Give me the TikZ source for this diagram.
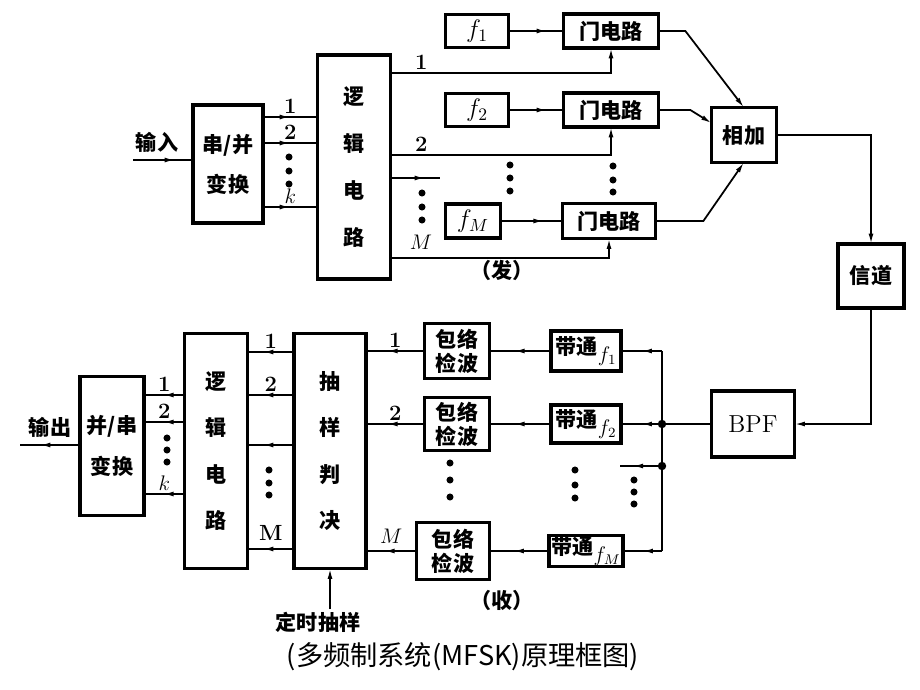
\documentclass[tikz,border=0pt]{standalone}
\usepackage{fontspec}
\newfontfamily\cjk{Noto Sans CJK SC}
\usetikzlibrary{arrows.meta}
\usetikzlibrary{decorations.markings}

\tikzset{
  blk/.style={inner sep=0pt, align=center,
    font=\cjk\bfseries\fontsize{12}{#1}\selectfont},
  blk/.default=14,
  frame/.style={line width=2pt},
  txt/.style={inner sep=1pt, font=\cjk\bfseries\fontsize{12}{14}\selectfont},
  lbl/.style={inner sep=1.5pt, font=\bfseries\fontsize{12.5}{14}\selectfont},
  mth/.style={font=\fontsize{14}{16}\selectfont},
  marr/.style={postaction={decorate},
    decoration={markings, mark=at position #1 with {\arrow{Latex[length=6pt,width=2.8pt]}}}},
  marr/.default=0.5,
  endarr/.style={-{Latex[length=6pt,width=2.8pt]}},
}

\begin{document}
\begin{tikzpicture}[x=0.02cm, y=-0.02cm, line width=1pt]
\useasboundingbox (0,0) rectangle (920,690);

% transmitter
\node[blk=22.7, minimum width=1.36cm, minimum height=2.32cm] (sp) at (228,164) {串/并\\变换};
\node[blk=26.6, minimum width=1.42cm, minimum height=4.44cm] (logA) at (354,167) {逻\\辑\\电\\路};

\node[blk, mth, minimum width=1.22cm, minimum height=0.62cm] (f1) at (477,31) {$f_1$};
\node[blk, mth, minimum width=1.22cm, minimum height=0.62cm] (f2) at (477,110) {$f_2$};
\node[blk, mth, minimum width=1.06cm, minimum height=0.64cm] (fM) at (473,221) {$f_M$};
\node[blk, minimum width=1.86cm, minimum height=0.64cm] (g1) at (611,31) {门电路};
\node[blk, minimum width=1.86cm, minimum height=0.64cm] (g2) at (611,110) {门电路};
\node[blk, minimum width=1.82cm, minimum height=0.66cm] (gM) at (609,221) {门电路};

\node[blk, minimum width=1.26cm, minimum height=1.06cm] (add) at (744,135) {相加};
\node[blk, minimum width=1.28cm, minimum height=1.24cm] (ch) at (871,276) {信道};
\node[blk, minimum width=1.62cm, minimum height=1.28cm, font=\rmfamily\fontsize{14}{16}\selectfont] (bpf) at (753,424) {BPF};

\coordinate (in) at (133,160);
\draw[marr=0.7] (in) -- (in -| sp.west) node[txt, pos=0.4, above=3pt] {输入};

\draw[marr] (sp.east |- 0,117) -- (logA.west |- 0,117) node[lbl, midway, above] {1};
\draw[marr] (sp.east |- 0,143) -- (logA.west |- 0,143) node[lbl, midway, above] {2};
\draw[marr] (sp.east |- 0,207) -- (logA.west |- 0,207) node[lbl, midway, above] {$k$};
\fill (289,157) circle[radius=2pt] (289,171) circle[radius=2pt] (289,184) circle[radius=2pt];

\draw[endarr] (logA.east |- 0,73) -| (g1.south) node[lbl, pos=0.07, above] {1};
\draw[endarr] (logA.east |- 0,155) -| (g2.south) node[lbl, pos=0.07, above] {2};
\coordinate (stA) at (440,178);
\draw[marr=0.7] (logA.east |- stA) -- (stA);
\draw[endarr] (logA.east |- 0,258) -| (gM.south) node[lbl, pos=0.07, above=3pt] {$M$};
\fill (422,193) circle[radius=2pt] (422,207) circle[radius=2pt] (422,220) circle[radius=2pt];
\fill (510,165) circle[radius=2pt] (510,178) circle[radius=2pt] (510,191) circle[radius=2pt];
\fill (613,166) circle[radius=2pt] (613,180) circle[radius=2pt] (613,192) circle[radius=2pt];

\draw[marr=0.7] (f1) -- (g1);
\draw[marr=0.7] (f2) -- (g2);
\draw[marr=0.7] (fM) -- (gM);

\draw[endarr] (g1.east) -- ++(27,0) -- (add.north);
\draw[endarr] (g2.east) -- ++(32,0) -- (add.160);
\draw[endarr] (gM.east) -- ++(48,0) -- (add.south);
\draw[endarr] (add.east) -| (ch.north);
\draw[endarr] (ch.south) |- (bpf.east);

\node[txt] (tx) at (502,270) {（发）};

% receiver
\node[blk=23.8, minimum width=1.24cm, minimum height=2.74cm] (ps) at (112,446) {并/串\\变换};
\node[blk=26.5, minimum width=1.22cm, minimum height=4.66cm] (logB) at (216,451) {逻\\辑\\电\\路};
\node[blk=26.5, minimum width=1.40cm, minimum height=4.66cm] (dec) at (330,451) {抽\\样\\判\\决};

\node[blk=13.6, minimum width=1.26cm, minimum height=1.06cm] (env1) at (457,351) {包络\\检波};
\node[blk=13.6, minimum width=1.26cm, minimum height=1.02cm] (env2) at (457,424) {包络\\检波};
\node[blk=13.6, minimum width=1.42cm, minimum height=1.10cm] (envM) at (453,551) {包络\\检波};
\node[blk, minimum width=1.36cm, minimum height=0.76cm] (bp1) at (586,351) {带通\raisebox{-4pt}{\fontsize{12}{14}\selectfont$f_1$}};
\node[blk, minimum width=1.36cm, minimum height=0.72cm] (bp2) at (586,424) {带通\raisebox{-4pt}{\fontsize{12}{14}\selectfont$f_2$}};
\node[blk, minimum width=1.44cm, minimum height=0.56cm] (bpM) at (586,551) {带通\raisebox{-4pt}{\fontsize{12}{14}\selectfont$f_M$}};

\coordinate (busT) at (662,351);
\coordinate (busB) at (662,551);
\coordinate (J2) at (662,424);
\coordinate (J3) at (662,466);
\coordinate (stB) at (620,466);
\draw (bpf.west) -- (J2);
\draw (busT) -- (busB);
\draw[marr] (busT) -- (bp1.east);
\draw[marr] (J2) -- (bp2.east);
\draw[marr] (busB) -- (bpM.east);
\draw[marr=0.7] (J3) -- (stB);
\fill (J2) circle[radius=2.4pt] (J3) circle[radius=2.4pt];
\fill (634,480) circle[radius=2pt] (634,492) circle[radius=2pt] (634,504) circle[radius=2pt];

\draw[marr=0.6] (bp1) -- (env1);
\draw[marr=0.6] (bp2) -- (env2);
\draw[marr=0.6] (bpM) -- (envM);
\fill (575,470) circle[radius=2pt] (575,485) circle[radius=2pt] (575,498) circle[radius=2pt];
\fill (450,463) circle[radius=2pt] (450,480) circle[radius=2pt] (450,497) circle[radius=2pt];

\draw[marr=0.64] (env1.west) -- (dec.east |- env1.west) node[lbl, midway, above] {1};
\draw[marr=0.64] (env2.west) -- (dec.east |- env2.west) node[lbl, midway, above] {2};
\draw[marr=0.64] (envM.west) -- (dec.east |- envM.west) node[lbl, midway, above=2pt] {$M$};

\draw[marr=0.67] (dec.west |- 0,352) -- (logB.east |- 0,352) node[lbl, midway, above] {1};
\draw[marr=0.67] (dec.west |- 0,395) -- (logB.east |- 0,395) node[lbl, midway, above] {2};
\draw[marr=0.67] (dec.west |- 0,445) -- (logB.east |- 0,445);
\draw[marr=0.67] (dec.west |- 0,549) -- (logB.east |- 0,549) node[lbl, midway, above=3pt] {M};
\fill (269,470) circle[radius=2pt] (269,483) circle[radius=2pt] (269,495) circle[radius=2pt];

\draw[marr=0.53] (logB.west |- 0,395) -- (ps.east |- 0,395) node[lbl, midway, above] {1};
\draw[marr=0.53] (logB.west |- 0,422) -- (ps.east |- 0,422) node[lbl, midway, above] {2};
\draw[marr=0.53] (logB.west |- 0,494) -- (ps.east |- 0,494) node[lbl, midway, above] {$k$};
\fill (167,438) circle[radius=2pt] (167,450) circle[radius=2pt] (167,462) circle[radius=2pt];

\coordinate (out) at (20,445);
\draw[marr=0.67] (ps.west |- out) -- (out) node[txt, pos=0.5, above=3pt] {输出};

\node[txt] (tim) at (318,622) {定时抽样};
\draw[endarr] (tim.north -| dec.south) -- (dec.south);

\node[txt] (rx) at (502,600) {（收）};

% box outlines
\foreach \n in {sp,logA,f1,f2,fM,g1,g2,gM,add,ch,bpf,ps,logB,dec,env1,env2,envM,bp1,bp2,bpM}
  \draw[frame] (\n.south west) rectangle (\n.north east);

\node[font=\cjk\fontsize{15.5}{18}\selectfont] (cap) at (463,657) {(多频制系统(MFSK)原理框图)};
\end{tikzpicture}
\end{document}
